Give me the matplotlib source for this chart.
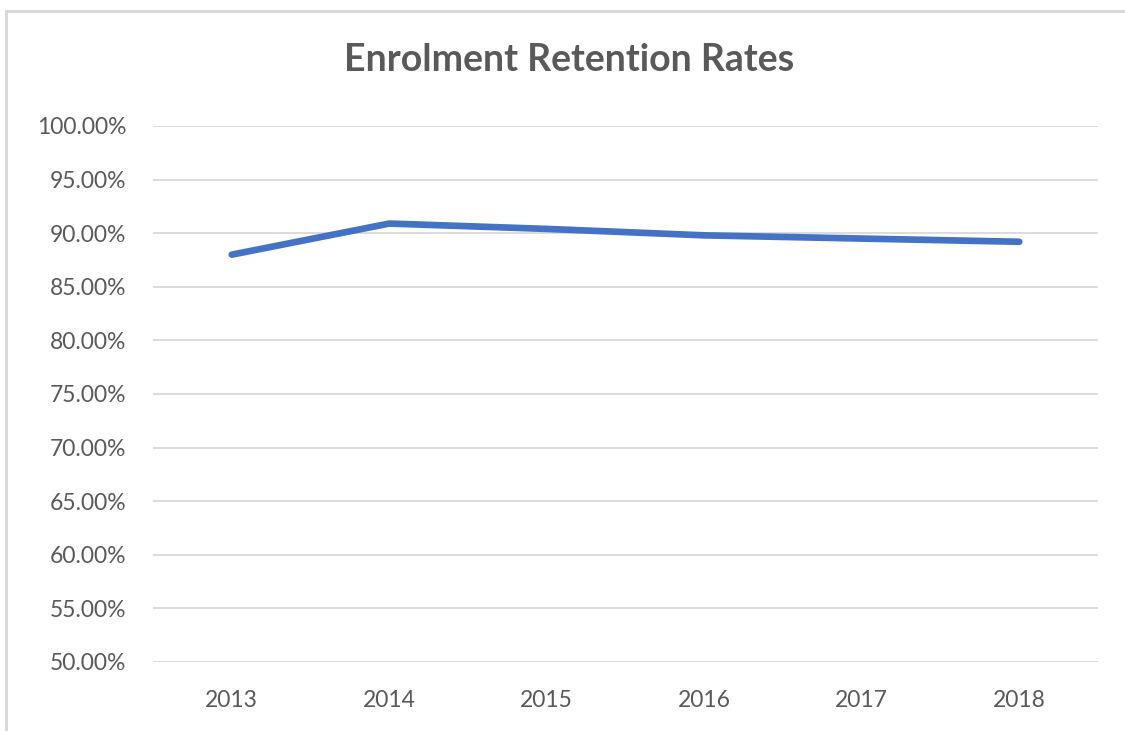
import matplotlib
matplotlib.use("Agg")
import matplotlib.pyplot as plt
from matplotlib.lines import Line2D
from matplotlib.ticker import FuncFormatter

years = ["2013", "2014", "2015", "2016", "2017", "2018"]
retention = [88.0, 90.9, 90.4, 89.8, 89.5, 89.2]
title = "Enrolment Retention Rates"

plt.rcParams['font.family'] = ['Lato', 'DejaVu Sans']

W, H = 1125, 731
fig = plt.figure(figsize=(W / 100, H / 100), dpi=100)
fig.patch.set_facecolor('white')

# chart area frame (top and left edges visible)
fig.add_artist(Line2D([6 / W, 6 / W], [0, 1 - 11 / H], transform=fig.transFigure,
                      color='#d9d9d9', lw=2.2))
fig.add_artist(Line2D([6 / W, 1], [1 - 11 / H, 1 - 11 / H], transform=fig.transFigure,
                      color='#d9d9d9', lw=2.2))

left, right = 153 / W, 1098 / W
top, bottom = 1 - 126 / H, 1 - 662 / H
ax = fig.add_axes([left, bottom, right - left, top - bottom])

x = list(range(len(years)))
ax.plot(x, retention, color='#4472C4', lw=4.8, solid_capstyle='round',
        solid_joinstyle='round', zorder=3)

ax.set_xlim(-0.5, len(years) - 0.5)
ax.set_ylim(50, 100)
ax.set_yticks(range(50, 101, 5))
ax.yaxis.set_major_formatter(FuncFormatter(lambda v, p: f"{v:.2f}%"))
ax.set_xticks(x)
ax.set_xticklabels(years)

ax.grid(axis='y', color='#d9d9d9', lw=1.3)
ax.set_axisbelow(True)
for s in ax.spines.values():
    s.set_visible(False)
ax.tick_params(axis='both', length=0, labelsize=16.5, colors='#595959')
ax.tick_params(axis='y', pad=19)
ax.tick_params(axis='x', pad=20)

fig.text(569 / W, 1 - 60 / H, title, ha='center', va='center',
         fontsize=27, fontweight='bold', color='#595959')

fig.savefig("out.png", dpi=100, facecolor='white')
